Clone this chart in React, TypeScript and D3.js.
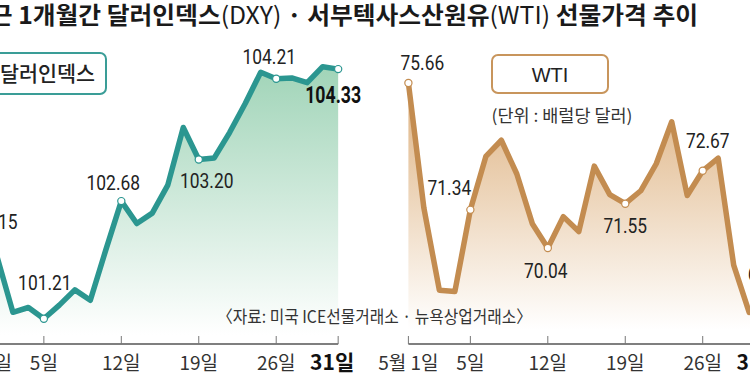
import React from 'react'
import * as d3 from 'd3'

// 최근 1개월간 달러인덱스 · WTI 선물가격 (2023년 5월, 거래일 순)
const titleParts = ['최근 1개월간 달러인덱스', '(DXY)', ' · 서부텍사스산원유', '(WTI)', ' 선물가격 추이']
const tickLabels = ['5월 1일', '5일', '12일', '19일', '26일', '31일']
const tickIndex = [0, 4, 9, 14, 19, 23]

const dxyValues = [
  102.15, 101.97, 101.29, 101.35, 101.21,
  101.38, 101.57, 101.44, 102.07, 102.68,
  102.40, 102.53, 102.88, 103.60, 103.20,
  103.22, 103.54, 103.90, 104.29, 104.21,
  104.22, 104.16, 104.36, 104.33
]
const dxyMarked = [0, 4, 9, 14, 19, 23]

const wtiValues = [
  75.66, 71.40, 68.60, 68.56, 71.34,
  73.16, 73.71, 72.56, 70.87, 70.04,
  71.11, 70.60, 72.83, 71.86, 71.55,
  71.99, 72.91, 74.34, 71.83, 72.67,
  73.10, 69.46, 67.85, 68.09
]
const wtiMarked = [0, 4, 9, 14, 19, 23]

const legendDxy = '달러인덱스'
const legendWti = 'WTI'
const unitText = '(단위 : 배럴당 달러)'
const sourceText = '〈자료: 미국 ICE선물거래소 · 뉴욕상업거래소〉'

const W = 750
const H = 375
const AXIS_Y = 344
const STEP = 15.49
const NUM_FONT = "'Roboto', 'Liberation Sans', sans-serif"
const KR_FONT = "'Noto Sans CJK KR', 'Noto Sans', sans-serif"

// condensed look for the value labels
function numWidth (s, bold) {
  const digits = s.replace('.', '').length
  return digits * (bold ? 10.4 : 9.9) + 4
}

function Panel (props) {
  const { id, values, marked, offsets, x0, yDomain, yRange, color, gradTop, gradFrom, gradTo } = props

  const x = d3.scaleLinear().domain([0, values.length - 1]).range([x0, x0 + STEP * (values.length - 1)])
  const y = d3.scaleLinear().domain(yDomain).range(yRange)

  const line = d3.line().x((d, i) => x(i)).y(d => y(d))
  const area = d3.area().x((d, i) => x(i)).y0(AXIS_Y).y1(d => y(d))

  return (
    <g>
      <defs>
        <linearGradient id={id + '-grad'} gradientUnits='userSpaceOnUse' x1='0' y1={gradFrom} x2='0' y2={gradTo}>
          <stop offset='0' stopColor={gradTop} />
          <stop offset='1' stopColor='#ffffff' />
        </linearGradient>
      </defs>
      <path d={area(values)} fill={'url(#' + id + '-grad)'} />

      {/* x axis */}
      <line x1={x(0)} x2={x(values.length - 1)} y1={AXIS_Y} y2={AXIS_Y} stroke='#555' strokeWidth={1.5} />
      {tickIndex.map((t, i) => {
        const last = i === tickIndex.length - 1
        return (
          <g key={t}>
            <line x1={x(t)} x2={x(t)} y1={AXIS_Y - 8} y2={AXIS_Y} stroke='#777' strokeWidth={1} />
            <text
              x={x(t) + (last ? -6 : 0)}
              y={370}
              textAnchor='middle'
              fontFamily={KR_FONT}
              fontSize={last ? 21 : 19}
              fontWeight={last ? 700 : 400}
              fill={last ? '#111' : '#333'}
            >
              {tickLabels[i]}
            </text>
          </g>
        )
      })}

      <path d={line(values)} fill='none' stroke={color} strokeWidth={5.5} strokeLinejoin='round' strokeLinecap='round' />

      {marked.map((m, k) => {
        const last = k === marked.length - 1 && id === 'dxy'
        const s = values[m].toFixed(2)
        return (
          <g key={m}>
            <circle cx={x(m)} cy={y(values[m])} r={3.6} fill='#fff' stroke={color} strokeWidth={1.2} />
            <text
              x={x(m) + offsets[k][0]}
              y={y(values[m]) + offsets[k][1]}
              textAnchor='middle'
              fontFamily={NUM_FONT}
              fontSize={last ? 23 : 21}
              fontWeight={last ? 700 : 400}
              fill={last ? '#111' : '#222'}
              textLength={numWidth(s, last)}
              lengthAdjust='spacingAndGlyphs'
            >
              {s}
            </text>
          </g>
        )
      })}
    </g>
  )
}

export default function App () {
  const dxyOffsets = [[9, -15], [1, -29], [-8, -11], [8, 28], [-7, -15], [-5, 34]]
  const wtiOffsets = [[14, -13], [-21, -15], [-2, 30], [0, 29], [5, -23], [5, -24]]

  return (
    <svg width={W} height={H} style={{ position: 'absolute', left: 0, top: 0, background: '#fff' }}>
      <rect width={W} height={H} fill='#fff' />

      <text
        x={-33}
        y={24}
        fontFamily={KR_FONT}
        fontSize={24}
        fontWeight={700}
        fill='#1a1a1a'
        textLength={731}
        lengthAdjust='spacingAndGlyphs'
      >
        {titleParts.map((p, i) => (
          <tspan key={i} fontWeight={p.startsWith('(') ? 400 : 700}>{p}</tspan>
        ))}
      </text>

      <Panel
        id='dxy'
        values={dxyValues}
        marked={dxyMarked}
        offsets={dxyOffsets}
        x0={-18.1}
        yDomain={[101, 104.5]}
        yRange={[335.5, 55.5]}
        color='#2b9690'
        gradTop='#9ed3b6'
        gradFrom={60}
        gradTo={335}
      />
      <Panel
        id='wti'
        values={wtiValues}
        marked={wtiMarked}
        offsets={wtiOffsets}
        x0={408.4}
        yDomain={[67, 76]}
        yRange={[337.3, 73]}
        color='#c38c50'
        gradTop='#dcae7a'
        gradFrom={70}
        gradTo={330}
      />

      {/* legends */}
      <rect x={-11} y={53} width={117} height={41} rx={6} fill='#fff' stroke='#3a9d97' strokeWidth={2} />
      <text x={47.5} y={81} textAnchor='middle' fontFamily={KR_FONT} fontSize={21} fontWeight={500} fill='#222' textLength={95} lengthAdjust='spacingAndGlyphs'>
        {legendDxy}
      </text>

      <rect x={492} y={55} width={116} height={38} rx={6} fill='#fff' stroke='#c8955c' strokeWidth={2} />
      <text x={550} y={82} textAnchor='middle' fontFamily="'Liberation Sans', Arial, sans-serif" fontSize={20} fill='#222'>
        {legendWti}
      </text>
      <text x={562} y={122} textAnchor='middle' fontFamily={KR_FONT} fontSize={17} fill='#333' textLength={141} lengthAdjust='spacingAndGlyphs'>
        {unitText}
      </text>

      <text x={374.5} y={323} textAnchor='middle' fontFamily={KR_FONT} fontSize={17} fill='#333' textLength={315} lengthAdjust='spacingAndGlyphs'>
        {sourceText}
      </text>
    </svg>
  )
}
